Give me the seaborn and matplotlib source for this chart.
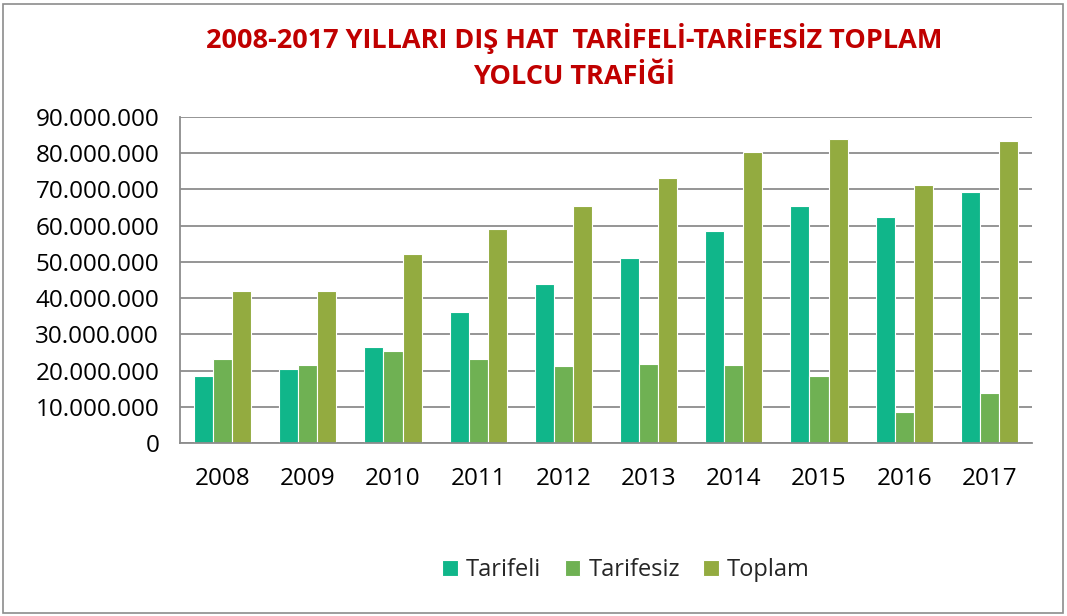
import matplotlib
matplotlib.use("Agg")
import matplotlib.pyplot as plt
import seaborn as sns
import pandas as pd
from matplotlib.ticker import FuncFormatter, MultipleLocator
from matplotlib.patches import Rectangle

years = ["2008", "2009", "2010", "2011", "2012", "2013", "2014", "2015", "2016", "2017"]
tarifeli = [18.6e6, 20.5e6, 26.4e6, 36.1e6, 44.0e6, 51.1e6, 58.6e6, 65.3e6, 62.3e6, 69.4e6]
tarifesiz = [23.2e6, 21.6e6, 25.5e6, 23.1e6, 21.3e6, 21.9e6, 21.4e6, 18.6e6, 8.6e6, 13.8e6]
toplam = [41.9e6, 42.1e6, 52.1e6, 59.2e6, 65.5e6, 73.1e6, 80.2e6, 83.9e6, 71.1e6, 83.4e6]
series_names = ["Tarifeli", "Tarifesiz", "Toplam"]
colors = ["#10B68A", "#6FB153", "#93AB40"]

df = pd.DataFrame({
    "Yıl": years * 3,
    "Seri": [s for s in series_names for _ in years],
    "Değer": tarifeli + tarifesiz + toplam,
})

sns.set_theme(style="white")
plt.rcParams["font.family"] = ["Open Sans", "DejaVu Sans"]

fig = plt.figure(figsize=(10.67, 6.16), dpi=100)
ax = fig.add_axes([180/1067, 1 - 443/616, (1032-180)/1067, (443-117)/616])

sns.barplot(data=df, x="Yıl", y="Değer", hue="Seri", palette=colors, width=0.67,
            saturation=1, edgecolor="white", linewidth=0.8, ax=ax, legend=True)

ax.set_ylim(0, 90e6)
ax.set_xlim(-0.5, 9.5)
ax.yaxis.set_major_locator(MultipleLocator(10e6))
ax.yaxis.set_major_formatter(FuncFormatter(lambda v, p: f"{int(round(v)):,}".replace(",", ".")))
ax.grid(axis="y", color="#8C8C8C", linewidth=1.3)
ax.set_axisbelow(True)
ax.set_xlabel("")
ax.set_ylabel("")
for s in ["top", "right"]:
    ax.spines[s].set_visible(False)
for s in ["left", "bottom"]:
    ax.spines[s].set_color("#8C8C8C")
    ax.spines[s].set_linewidth(1.3)

ax.tick_params(axis="y", labelsize=17.5, colors="black", length=0, pad=15)
ax.tick_params(axis="x", labelsize=17.5, colors="black", length=0, pad=17)
# boundary tick marks between categories
ax.set_xticks([i - 0.5 for i in range(11)], minor=True)
ax.tick_params(axis="x", which="minor", length=6, width=1.3, color="#8C8C8C", direction="out")

handles, labels = ax.get_legend_handles_labels()
ax.legend(handles, labels, loc="center", bbox_to_anchor=(626/1067, 1 - 570/616),
          bbox_transform=fig.transFigure, ncol=3, frameon=False, fontsize=17,
          handlelength=0.65, handleheight=0.65, handletextpad=0.35, columnspacing=1.0)

fig.text(0.538, 1 - 38/616, "2008-2017 YILLARI DIŞ HAT  TARİFELİ-TARİFESİZ TOPLAM",
         ha="center", va="center", color="#C00000", fontsize=19.5, fontweight="bold")
fig.text(0.538, 1 - 77/616, "YOLCU TRAFİĞİ",
         ha="center", va="center", color="#C00000", fontsize=19.5, fontweight="bold")

fig.patches.append(Rectangle((3/1067, 3/616), 1 - 7/1067, 1 - 7/616, transform=fig.transFigure,
                             fill=False, edgecolor="#8C8C8C", linewidth=1.2))

fig.savefig("out.png", dpi=100)
